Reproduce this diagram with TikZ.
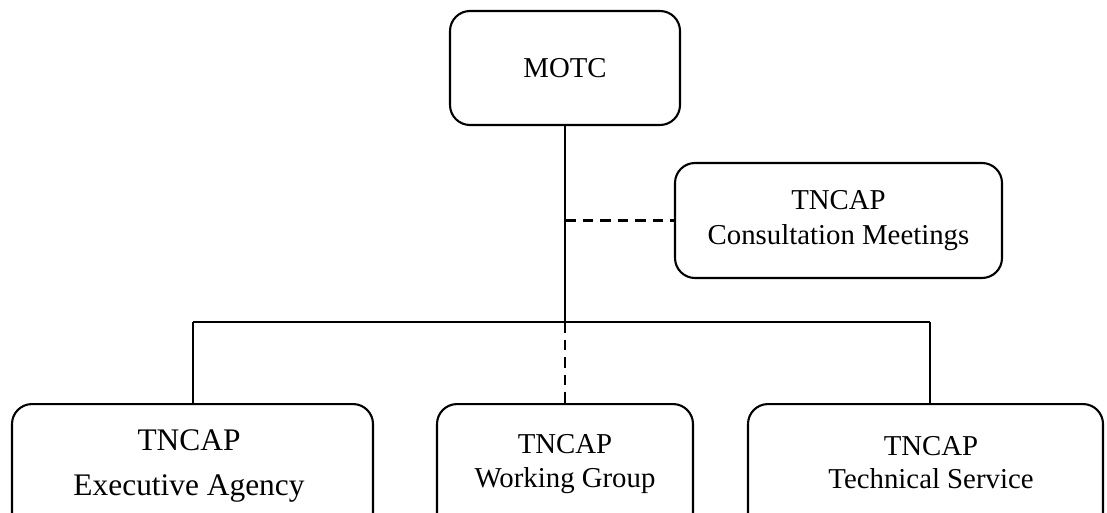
\documentclass[tikz,border=0pt]{standalone}
\usepackage{fontspec}
\setmainfont{Liberation Serif}
\begin{document}
\begin{tikzpicture}[x=1pt,y=-1pt,line width=2.1pt,
  box/.style={draw, rounded corners=20pt, inner sep=0pt, align=center},
  lbl/.style={font=\fontsize{28.8}{35}\selectfont, inner sep=0pt, anchor=base},
  lblbig/.style={font=\fontsize{31.4}{38}\selectfont, inner sep=0pt, anchor=base},
  dashline/.style={dash pattern=on 10.5pt off 7pt}]
\useasboundingbox (0,0) rectangle (1107,513);
\clip (0,0) rectangle (1107,513);
% top boxes
\node[box, minimum width=230pt, minimum height=114pt, font=\fontsize{28.8}{35}\selectfont] (motc) at (565,68) {MOTC};
\node[box, minimum width=327pt, minimum height=115pt, font=\fontsize{28.8}{35}\selectfont] (cm) at (838.5,220.5) {TNCAP\\Consultation Meetings};
% bottom boxes (cut off by the lower edge)
\node[box, minimum width=361pt, minimum height=160pt, anchor=north] (exec) at (192.5,403) {};
\node[box, minimum width=256pt, minimum height=160pt, anchor=north] (wg) at (565,403) {};
\node[box, minimum width=355pt, minimum height=160pt, anchor=north] (ts) at (925.5,403) {};
% bottom labels
\node[lblbig] (exec1) at (189,450) {TNCAP};
\node[lblbig] (exec2) at (189,495) {Executive Agency};
\node[lbl] (wg1) at (565,453) {TNCAP};
\node[lbl] (wg2) at (565,487) {Working Group};
\node[lbl] (ts1) at (931,455) {TNCAP};
\node[lbl] (ts2) at (931,488) {Technical Service};
% connectors
\coordinate (j) at (motc.south |- 0,322);
\coordinate (cj) at (motc.south |- cm.west);
\coordinate (el) at (193,322);
\coordinate (tl) at (930,322);
\draw (motc.south) -- (j);
\draw (el) -- (tl);
\draw (el) -- (el |- exec.north);
\draw (tl) -- (tl |- ts.north);
\draw[dashline] (j) -- (j |- wg.north);
\draw[dashline] (cj) -- (cm.west);
\end{tikzpicture}
\end{document}
